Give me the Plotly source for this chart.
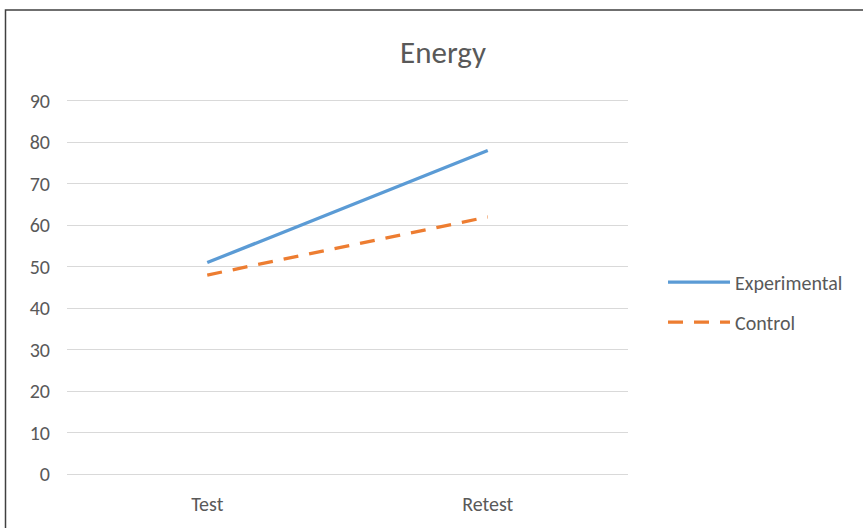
import plotly.graph_objects as go

categories = ["Test", "Retest"]
experimental = [51, 78]
control = [48, 62]
y_ticks = [0, 10, 20, 30, 40, 50, 60, 70, 80, 90]

W, H = 863, 528
# reference pixel positions of the value range 0..90 and category band
ref_left, ref_right, ref_top, ref_bottom = 67, 628, 101, 474
ymin, ymax = 0, 90
pad = 0.4  # small range padding so the 0 and 90 gridlines are drawn
ppu = (ref_bottom - ref_top) / (ymax - ymin)
L = ref_left
R = W - ref_right
T = ref_top - pad * ppu
B = H - (ref_bottom + pad * ppu)
pw = W - L - R
ph = H - T - B
plot_bottom = H - B


def px_x(x):
    return (x - L) / pw


def px_y(y):
    return (plot_bottom - y) / ph


font_family = "Carlito, Calibri, Lato, sans-serif"
gray = "#595959"

fig = go.Figure()
fig.add_trace(go.Scatter(x=categories, y=experimental, mode="lines", name="Experimental",
                         legendgroup="a",
                         line=dict(color="#5B9BD5", width=3.3)))
fig.add_trace(go.Scatter(x=categories, y=control, mode="lines", name="Control",
                         legendgroup="b",
                         line=dict(color="#ED7D31", width=3.3, dash="15px,11px")))

fig.update_layout(
    width=W, height=H,
    margin=dict(l=L, r=R, t=T, b=B),
    paper_bgcolor="white", plot_bgcolor="white",
    title=dict(text="Energy", x=px_x(443), xref="paper", xanchor="center",
               y=(H - 52) / H, yref="container", yanchor="middle",
               font=dict(family=font_family, size=31, color=gray)),
    font=dict(family=font_family, size=20, color=gray),
    xaxis=dict(type="category", range=[-0.5, 1.5], showgrid=False, showline=False,
               zeroline=False, ticks="", ticklabelstandoff=14,
               tickfont=dict(size=20, color=gray)),
    yaxis=dict(range=[ymin - pad, ymax + pad], tickvals=y_ticks, showgrid=True,
               gridcolor="#D9D9D9", gridwidth=1, zeroline=False, showline=False,
               ticks="", ticklabelstandoff=16, tickfont=dict(size=20, color=gray)),
    legend=dict(x=px_x(663), xanchor="left", y=px_y(302), yanchor="middle",
                font=dict(size=20, color=gray), itemwidth=62, tracegroupgap=11,
                bgcolor="rgba(0,0,0,0)"),
    showlegend=True,
    shapes=[dict(type="rect", xref="paper", yref="paper",
                 x0=px_x(5.5), x1=px_x(870),
                 y0=px_y(540), y1=px_y(10.5),
                 line=dict(color="#404040", width=1.5), fillcolor="rgba(0,0,0,0)",
                 layer="below")],
)

fig.write_html("out.html", config={"displayModeBar": False},
               post_script="document.body.style.margin='0';")
